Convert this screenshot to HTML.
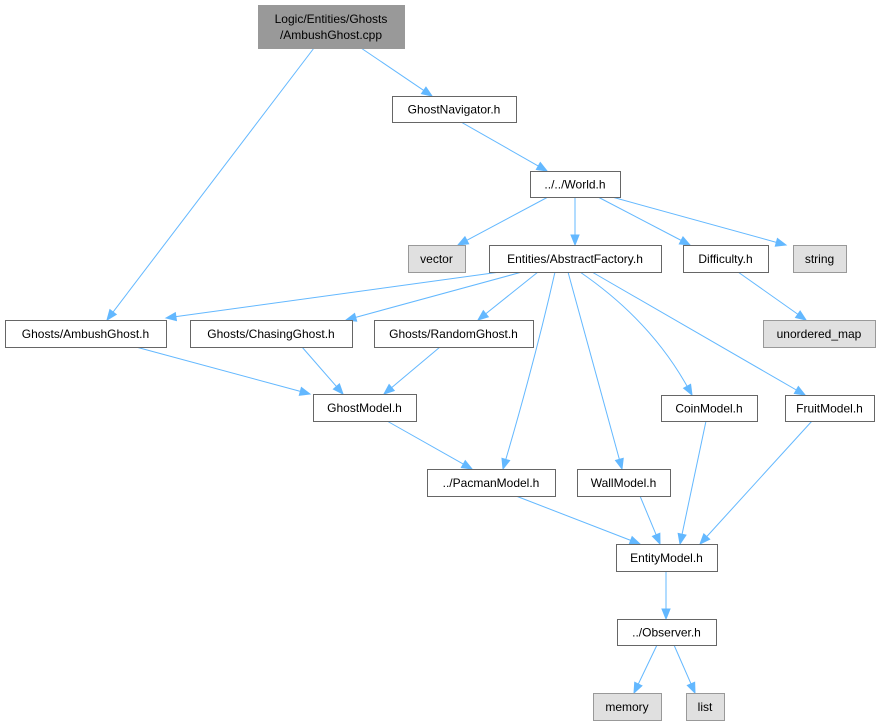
<!DOCTYPE html>
<html><head><meta charset="utf-8"><style>
body{margin:0;background:#fff;}
svg{display:block}
text{font-family:"Liberation Sans",Arial,sans-serif;font-size:12px;fill:#000;text-anchor:middle}
</style></head><body>
<svg id="g" width="880" height="725" viewBox="0 0 880 725" xmlns="http://www.w3.org/2000/svg">
<g id="edges" fill="none" stroke="#63b8ff" stroke-width="1"></g>
<g id="heads" fill="#63b8ff" stroke="#63b8ff"></g>
<g id="nodes"></g>
</svg>
<script>
var N=[
["root",258,5,146,43,"#999999",["Logic/Entities/Ghosts","/AmbushGhost.cpp"]],
["nav",392,96,124,26,"#fff",["GhostNavigator.h"]],
["world",530,171,90,26,"#fff",["../../World.h"]],
["vector",408,245,57,27,"#e0e0e0",["vector"]],
["af",489,245,172,27,"#fff",["Entities/AbstractFactory.h"]],
["diff",683,245,85,27,"#fff",["Difficulty.h"]],
["string",793,245,53,27,"#e0e0e0",["string"]],
["umap",763,320,112,27,"#e0e0e0",["unordered_map"]],
["amb",5,320,161,27,"#fff",["Ghosts/AmbushGhost.h"]],
["chase",190,320,162,27,"#fff",["Ghosts/ChasingGhost.h"]],
["rand",374,320,159,27,"#fff",["Ghosts/RandomGhost.h"]],
["gm",313,394,103,27,"#fff",["GhostModel.h"]],
["coin",661,395,96,26,"#fff",["CoinModel.h"]],
["fruit",785,395,89,26,"#fff",["FruitModel.h"]],
["pac",427,469,128,27,"#fff",["../PacmanModel.h"]],
["wall",577,469,93,27,"#fff",["WallModel.h"]],
["em",616,544,101,27,"#fff",["EntityModel.h"]],
["obs",617,619,99,26,"#fff",["../Observer.h"]],
["mem",593,693,68,27,"#e0e0e0",["memory"]],
["list",686,693,38,27,"#e0e0e0",["list"]]
];
// edges: [x0,y0,(cx,cy),x1,y1] end = arrow tip
var E=[
[314,48,107,320],
[361,48,432,96],
[461,122,547,171],
[548,197,458,245],
[575,197,575,245],
[598,197,690,245],
[612,197,786,245],
[738,272,806,320],
[500,272,166,318],
[522,272,346,320],
[538,272,478,320],
[555,272,535,360,503,469],
[568,272,595,370,622,469],
[580,272,650,320,692,395],
[592,272,805,395],
[136,347,310,394],
[302,347,343,394],
[440,347,384,394],
[387,421,472,469],
[516,496,640,544],
[640,496,660,544],
[706,421,680,544],
[812,421,700,544],
[666,571,666,619],
[657,645,634,693],
[674,645,695,693]
];
var ns="http://www.w3.org/2000/svg";
function el(t,a,p){var e=document.createElementNS(ns,t);for(var k in a)e.setAttribute(k,a[k]);p.appendChild(e);return e;}
var eg=document.getElementById("edges"),hg=document.getElementById("heads"),ng=document.getElementById("nodes");
E.forEach(function(e){
 var x0=e[0],y0=e[1],x1,y1,px,py,d;
 if(e.length==6){x1=e[4];y1=e[5];px=e[2];py=e[3];}else{x1=e[2];y1=e[3];px=x0;py=y0;}
 var dx=x1-px,dy=y1-py,L=Math.hypot(dx,dy),ux=dx/L,uy=dy/L;
 var bx=x1-ux*10,by=y1-uy*10;
 if(e.length==6)d="M"+x0+","+y0+" Q"+px+","+py+" "+bx+","+by;else d="M"+x0+","+y0+" L"+bx+","+by;
 el("path",{d:d},eg);
 var qx=-uy*4,qy=ux*4;
 el("polygon",{points:x1+","+y1+" "+(bx+qx)+","+(by+qy)+" "+(bx-qx)+","+(by-qy)},hg);
});
N.forEach(function(n){
 el("rect",{x:n[1]+.5,y:n[2]+.5,width:n[3],height:n[4],fill:n[5],stroke:n[5]=="#fff"?"#666666":"#999999"},ng);
 var cx=n[1]+n[3]/2,l=n[6];
 if(l.length==1){var t=el("text",{x:cx,y:n[2]+n[4]/2+4.5},ng);t.textContent=l[0];}
 else l.forEach(function(s,i){var t=el("text",{x:cx,y:n[2]+18+i*16},ng);t.textContent=s;});
});
</script>
</body></html>
